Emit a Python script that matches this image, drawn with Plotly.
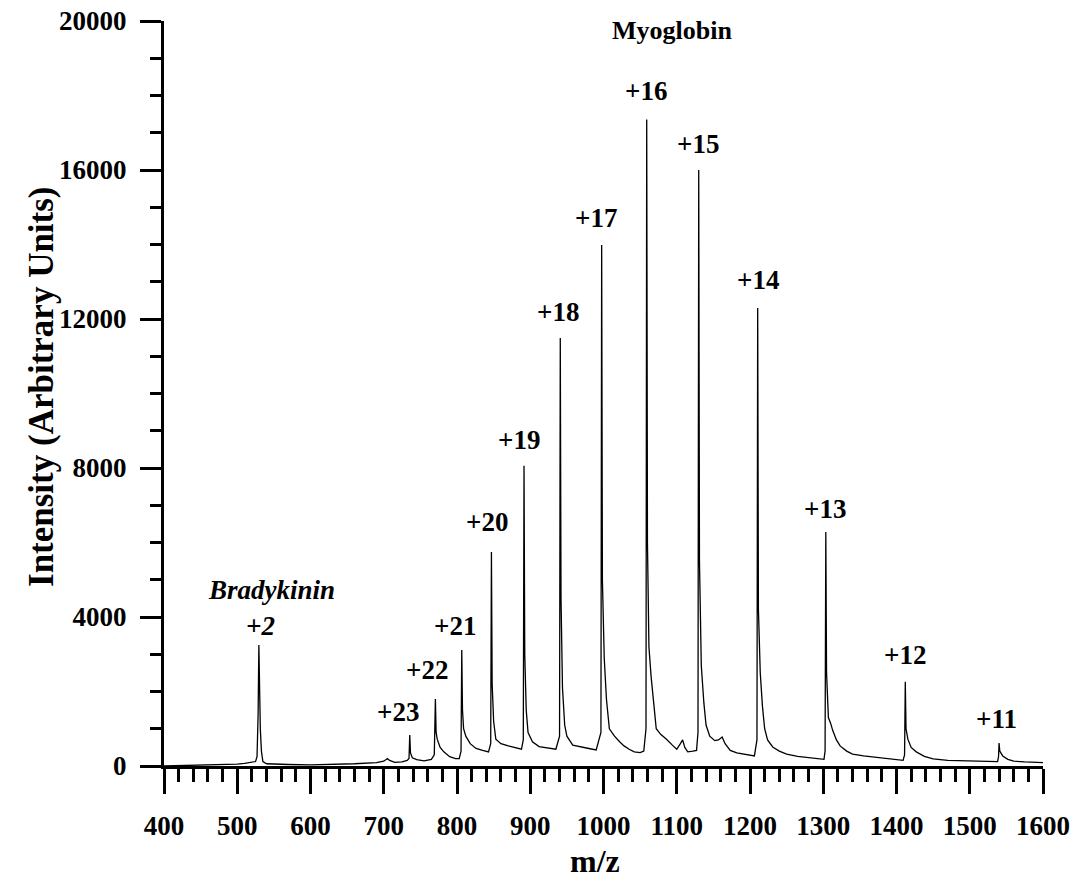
import plotly.graph_objects as go

# ---- spectrum trace (m/z, intensity) ----
mz = [
    400, 420, 450, 480, 500, 510, 520, 525,
    527, 528.5, 529.5, 530.5, 531.5, 533, 535, 540, 550, 570, 600, 630, 660, 690, 700, 705, 708, 715, 725, 732,
    734.5, 735.5, 736.5, 739, 745, 755, 765,
    769, 770.5, 771.5, 773, 777, 782, 790, 798, 803,
    805.5, 806.5, 807.5, 809, 812, 818, 826, 835, 843,
    846, 847, 848, 850, 853, 860, 870, 880, 888,
    890.5, 891.5, 892.5, 894.5, 897, 903, 912, 925, 935,
    940, 941, 942, 944, 947, 950, 958, 970, 980, 990,
    996.5, 997.5, 998.5, 1001, 1004, 1008, 1015, 1022, 1028, 1035, 1042, 1050, 1055,
    1058, 1059, 1060, 1062, 1065, 1068, 1072, 1078, 1086, 1094, 1100, 1105, 1108, 1111, 1115, 1122, 1127,
    1129, 1130, 1131, 1133.5, 1137, 1140, 1145, 1152, 1157, 1162, 1166, 1173, 1182, 1192, 1200, 1206,
    1209.5, 1210.5, 1211.5, 1214, 1217, 1220, 1224, 1231, 1240, 1250, 1265, 1280, 1295, 1301,
    1302.5, 1303.5, 1304.5, 1307, 1310, 1313, 1318, 1323, 1332, 1340, 1355, 1368, 1385, 1400, 1409,
    1411, 1412, 1413, 1415.5, 1420, 1427, 1438, 1450, 1470, 1490, 1510, 1530, 1538,
    1539.3, 1540, 1541, 1545, 1552, 1560, 1575, 1590, 1600,
]
intensity = [
    0, 10, 20, 30, 50, 70, 90, 120,
    250, 1400, 3248, 1900, 1000, 400, 120, 60, 50, 40, 30, 40, 60, 90, 130, 200, 150, 100, 110, 150,
    200, 832, 350, 220, 170, 140, 180,
    300, 1798, 900, 720, 500, 380, 250, 200, 200,
    400, 3113, 1500, 1000, 800, 600, 470, 420, 380,
    600, 5744, 2200, 1200, 720, 600, 540, 480, 450,
    700, 8060, 3000, 1500, 900, 650, 520, 480, 450,
    800, 11488, 4500, 2100, 1100, 800, 560, 500, 470, 430,
    900, 13984, 5000, 2900, 1800, 1000, 800, 650, 540, 450, 380, 360, 400,
    1000, 17357, 6000, 3200, 2400, 1700, 1000, 850, 720, 560, 450, 600, 700, 500, 380, 400, 420,
    900, 15997, 5500, 2700, 1700, 1100, 800, 680, 700, 780, 600, 420, 350, 320, 280, 270,
    700, 12293, 4200, 2500, 1600, 1000, 700, 510, 400, 320, 260, 230, 190, 180,
    400, 6280, 2500, 1300, 1150, 950, 700, 540, 400, 320, 270, 240, 190, 160, 150,
    300, 2263, 1000, 720, 500, 380, 260, 190, 150, 140, 130, 120, 120,
    250, 617, 400, 270, 180, 130, 110, 100, 90,
]

# ---- peak labels ----
label_text = ["+23", "+22", "+21", "+20", "+19", "+18", "+17", "+16", "+15", "+14", "+13", "+12", "+11"]
label_mz = [719.5, 758.6, 797.3, 840.5, 884.6, 937.9, 989.8, 1058, 1129, 1211, 1302.4, 1411.6, 1536.8]
label_y = [1449, 2577, 3758, 6549, 8750, 12185, 14708, 18117, 16694, 13044, 6898, 2979, 1261]

x_ticks = [400, 500, 600, 700, 800, 900, 1000, 1100, 1200, 1300, 1400, 1500, 1600]
y_ticks = [0, 4000, 8000, 12000, 16000, 20000]

FONT = "Liberation Serif"

fig = go.Figure()
fig.add_trace(go.Scatter(x=mz, y=intensity, mode="lines",
                         line=dict(color="black", width=1.3),
                         hoverinfo="skip", showlegend=False))

annotations = []
for t, xv, yv in zip(label_text, label_mz, label_y):
    annotations.append(dict(x=xv, y=yv, text=t, showarrow=False, xanchor="center", yanchor="middle",
                            font=dict(family=FONT, size=27, color="black", weight="bold")))
annotations.append(dict(x=532.4, y=3758, text="+2", showarrow=False, xanchor="center", yanchor="middle",
                        font=dict(family=FONT, size=27, color="black", weight="bold", style="italic")))
annotations.append(dict(x=547, y=4724, text="Bradykinin", showarrow=False, xanchor="center", yanchor="middle",
                        font=dict(family=FONT, size=27, color="black", weight="bold", style="italic")))
annotations.append(dict(x=1093, y=19754, text="Myoglobin", showarrow=False, xanchor="center", yanchor="middle",
                        font=dict(family=FONT, size=26, color="black", weight="bold")))
annotations.append(dict(x=0.49, y=-0.128, xref="paper", yref="paper", text="m/z", showarrow=False,
                        xanchor="center", yanchor="middle",
                        font=dict(family=FONT, size=32, color="black", weight="bold")))
annotations.append(dict(x=-0.14, y=0.51, xref="paper", yref="paper", text="Intensity (Arbitrary Units)",
                        showarrow=False, textangle=-90, xanchor="center", yanchor="middle",
                        font=dict(family=FONT, size=35, color="black", weight="bold")))

fig.update_layout(
    width=1072, height=880,
    margin=dict(l=164, r=29, t=21, b=114),
    plot_bgcolor="white", paper_bgcolor="white",
    annotations=annotations,
    xaxis=dict(range=[400, 1600], tickvals=x_ticks, ticktext=[str(v) for v in x_ticks],
               automargin=False,
               showgrid=False, zeroline=False, showline=True, linecolor="black", linewidth=3,
               ticks="outside", ticklen=25, tickwidth=3, tickcolor="black",
               ticklabelstandoff=9,
               minor=dict(dtick=20, ticks="outside", ticklen=13, tickwidth=2.5, tickcolor="black", showgrid=False),
               tickfont=dict(family=FONT, size=27, color="black", weight="bold")),
    yaxis=dict(range=[0, 20000], tickvals=y_ticks, ticktext=[str(v) for v in y_ticks],
               automargin=False,
               showgrid=False, zeroline=False, showline=True, linecolor="black", linewidth=3,
               ticks="outside", ticklen=21, tickwidth=3, tickcolor="black",
               ticklabelstandoff=8,
               minor=dict(dtick=1000, ticks="outside", ticklen=11, tickwidth=2.5, tickcolor="black", showgrid=False),
               tickfont=dict(family=FONT, size=27, color="black", weight="bold")),
)

fig.write_html("out.html")
